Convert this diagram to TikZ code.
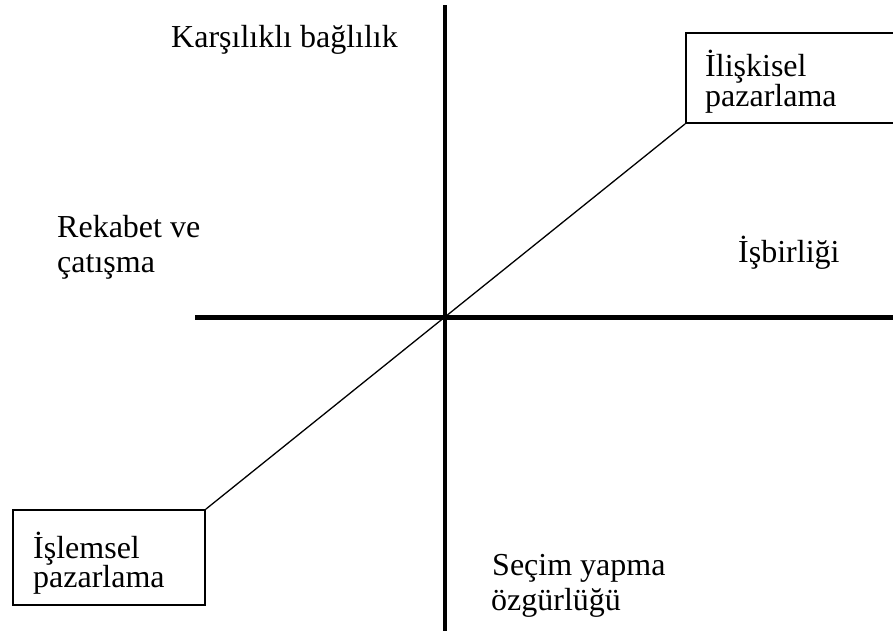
\documentclass[tikz,border=0pt]{standalone}
\usepackage{fontspec}
\setmainfont{Liberation Serif}
\begin{document}
\begin{tikzpicture}[x=1pt,y=-1pt,
  lbl/.style={anchor=base west,inner sep=0pt,font=\fontsize{32}{36}\selectfont},
  axis/.style={line width=4.2pt},
  boxed/.style={draw,line width=1.8pt,rectangle,inner sep=0pt},
  diag/.style={line width=1.3pt}]
\useasboundingbox[fill=white] (0,0) rectangle (893,630);
% axes
\coordinate (vt) at (445,5);
\coordinate (vb) at (445,634);
\coordinate (hl) at (195,317.5);
\coordinate (hr) at (897,317.5);
\draw[axis] (vt) -- (vb);
\draw[axis] (hl) -- (hr);
% boxes
\node[boxed,minimum width=212pt,minimum height=90pt] (rbox) at (792,78) {};
\node[boxed,minimum width=192pt,minimum height=95pt] (lbox) at (109,557.5) {};
\draw[diag] (rbox.south west) -- (lbox.north east);
% labels
\node[lbl] (kars) at (171,47) {Karşılıklı bağlılık};
\node[lbl] (rek1) at (57,237) {Rekabet ve};
\node[lbl] (rek2) at (57,272.5) {çatışma};
\node[lbl] (isb) at (738,262) {İşbirliği};
\node[lbl] (sec1) at (492,575) {Seçim yapma};
\node[lbl] (sec2) at (491,610.5) {özgürlüğü};
\node[lbl] (ilis1) at (705,76) {İlişkisel};
\node[lbl] (ilis2) at (705,106) {pazarlama};
\node[lbl] (isl1) at (33,558) {İşlemsel};
\node[lbl] (isl2) at (33,587) {pazarlama};
\end{tikzpicture}
\end{document}
